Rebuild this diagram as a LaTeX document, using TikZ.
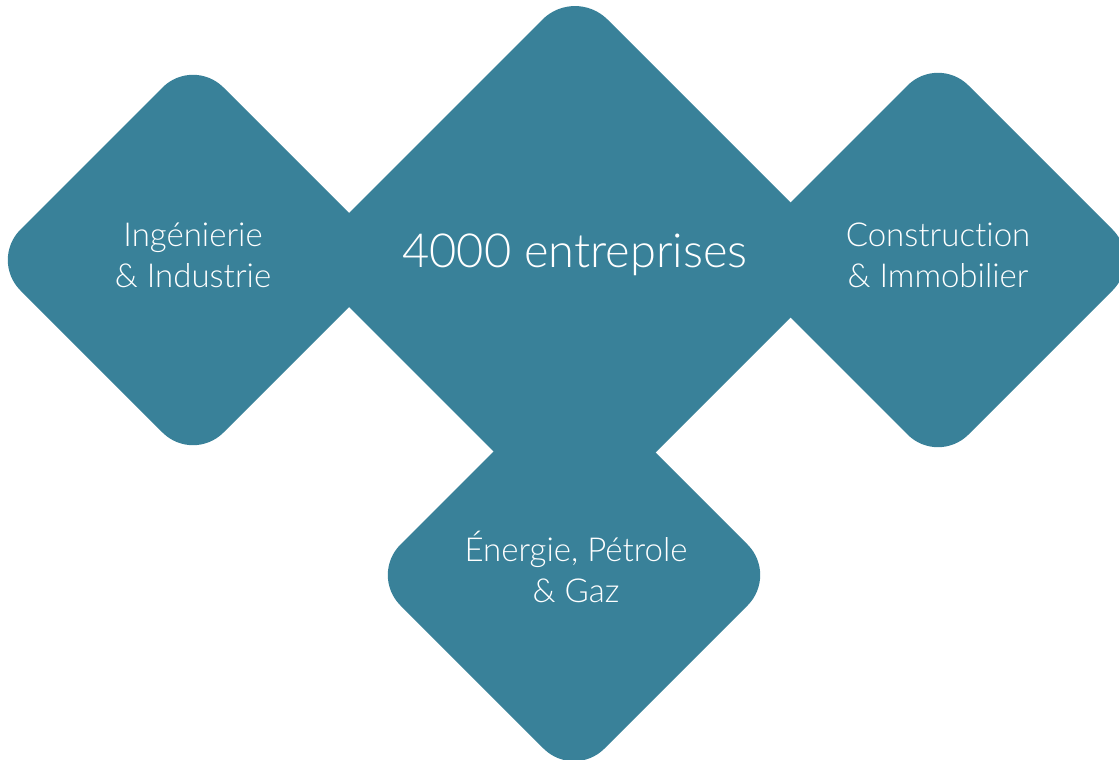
\documentclass[tikz,border=0pt]{standalone}
\usepackage{fontspec}
\setmainfont{Lato}[UprightFont={* Light},Ligatures={NoCommon,NoRare}]
\definecolor{teal1}{RGB}{57,129,153}
\tikzset{
  tile/.style={fill=teal1, draw=none, rounded corners=43pt},
  lbl/.style={text=white, align=center, font=\fontsize{33}{41}\selectfont, inner sep=0pt},
  biglbl/.style={text=white, align=center, font=\fontsize{47}{56}\selectfont, inner sep=0pt}
}
\newcommand{\tile}[3]{% cx, cy, h
  \fill[tile] ({#1-#3/2},{#2-#3/2}) -- (#1,{#2-#3}) -- ({#1+#3},#2) -- (#1,{#2+#3}) -- ({#1-#3},#2) -- cycle;}
\begin{document}
\begin{tikzpicture}[x=1pt,y=-1pt]
\useasboundingbox (0,0) rectangle (1119,760);
\tile{193}{260}{203}
\tile{938}{260}{205}
\tile{574}{575}{204}
\fill[teal1, rounded corners=46pt] (438.5,123.5) -- (575,-13) -- (848,260) -- (575,533) -- (302,260) -- cycle;
\node[lbl] (ing) at (193,255) {Ingénierie\\\& Industrie};
\node[lbl] (con) at (938,255) {Construction\\\& Immobilier};
\node[lbl] (ene) at (576,567) {Énergie, Pétrole\\\& Gaz};
\node[biglbl] (ent) at (575,254.5) {4000 entreprises};
\end{tikzpicture}
\end{document}
